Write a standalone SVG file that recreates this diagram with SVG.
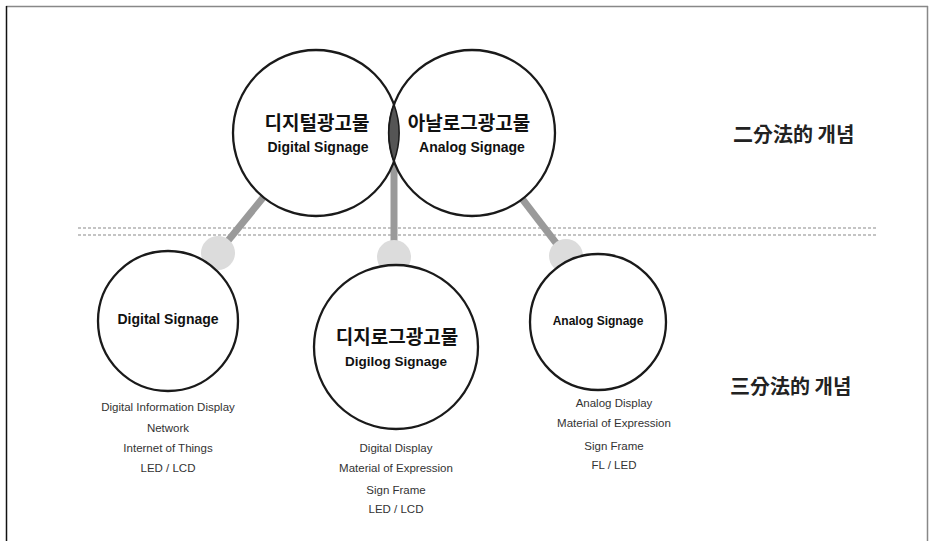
<svg xmlns="http://www.w3.org/2000/svg" width="930" height="541" viewBox="0 0 930 541">
<style>
.big{fill:#fff;stroke:#1a1a1a;stroke-width:2.3}
.dot{fill:#dcdcdc;stroke:none}
.conn{stroke:#9a9a9a;stroke-width:7;fill:none}
.sep{stroke:#c4c4c4;stroke-width:2;stroke-dasharray:3 2;fill:none}
.ko{font-family:"Noto Sans CJK KR","Noto Sans",sans-serif;font-weight:700;fill:#111;text-anchor:middle}
.en{font-family:"Liberation Sans",Arial,sans-serif;font-weight:700;fill:#111;text-anchor:middle}
.li{font-family:"Liberation Sans",Arial,sans-serif;font-size:11.5px;fill:#333;text-anchor:middle}
.side{font-family:"Noto Sans CJK KR","Noto Sans CJK SC",sans-serif;font-weight:700;font-size:20px;fill:#222}
</style>
<rect x="0" y="0" width="930" height="541" fill="#fff"/>
<g id="frame">
<line x1="6" y1="6.5" x2="928" y2="6.5" stroke="#888" stroke-width="1.5"/>
<line x1="6.5" y1="6" x2="6.5" y2="541" stroke="#111" stroke-width="1.5"/>
<line x1="927.5" y1="6" x2="927.5" y2="541" stroke="#888" stroke-width="1.5"/>
</g>
<g id="separator">
<line class="sep" x1="78" y1="228" x2="878" y2="228"/>
<line class="sep" x1="78" y1="235" x2="878" y2="235"/>
</g>
<g id="connectors">
<line class="conn" x1="275" y1="183" x2="218" y2="253"/>
<line class="conn" x1="394" y1="150" x2="394" y2="257"/>
<line class="conn" x1="510" y1="183" x2="566" y2="256"/>
<circle class="dot" cx="218" cy="253" r="17"/>
<circle class="dot" cx="394" cy="257" r="17"/>
<circle class="dot" cx="566" cy="256" r="17"/>
</g>
<g id="node-digital-top">
<circle class="big" cx="316" cy="133" r="83"/>
</g>
<g id="node-analog-top">
<circle class="big" cx="472" cy="133" r="83"/>
</g>
<g id="lens">
<path d="M394,104.6 A83,83 0 0 1 394,161.4 A83,83 0 0 1 394,104.6 Z" fill="#555" stroke="#1a1a1a" stroke-width="1.5"/>
</g>
<g id="labels-top">
<text class="ko" x="317" y="130" font-size="19">디지털광고물</text>
<text class="en" x="318" y="152" font-size="14">Digital Signage</text>
<text class="ko" x="469" y="130" font-size="19">아날로그광고물</text>
<text class="en" x="472" y="152" font-size="14">Analog Signage</text>
</g>
<g id="node-digital">
<circle class="big" cx="168" cy="321" r="70"/>
<text class="en" x="168" y="324" font-size="14">Digital Signage</text>
<text class="li" x="168" y="411">Digital Information Display</text>
<text class="li" x="168" y="432">Network</text>
<text class="li" x="168" y="452">Internet of Things</text>
<text class="li" x="168" y="472">LED / LCD</text>
</g>
<g id="node-digilog">
<circle class="big" cx="396" cy="347" r="82"/>
<text class="ko" x="397" y="344" font-size="19">디지로그광고물</text>
<text class="en" x="396" y="366" font-size="13.5">Digilog Signage</text>
<text class="li" x="396" y="452">Digital Display</text>
<text class="li" x="396" y="472">Material of Expression</text>
<text class="li" x="396" y="494">Sign Frame</text>
<text class="li" x="396" y="513">LED / LCD</text>
</g>
<g id="node-analog">
<circle class="big" cx="598" cy="322" r="68"/>
<text class="en" x="598" y="325" font-size="12">Analog Signage</text>
<text class="li" x="614" y="407">Analog Display</text>
<text class="li" x="614" y="427">Material of Expression</text>
<text class="li" x="614" y="450">Sign Frame</text>
<text class="li" x="614" y="469">FL / LED</text>
</g>
<g id="side-labels">
<text class="side" x="733" y="142">二分法的 개념</text>
<text class="side" x="730" y="394">三分法的 개념</text>
</g>
</svg>
